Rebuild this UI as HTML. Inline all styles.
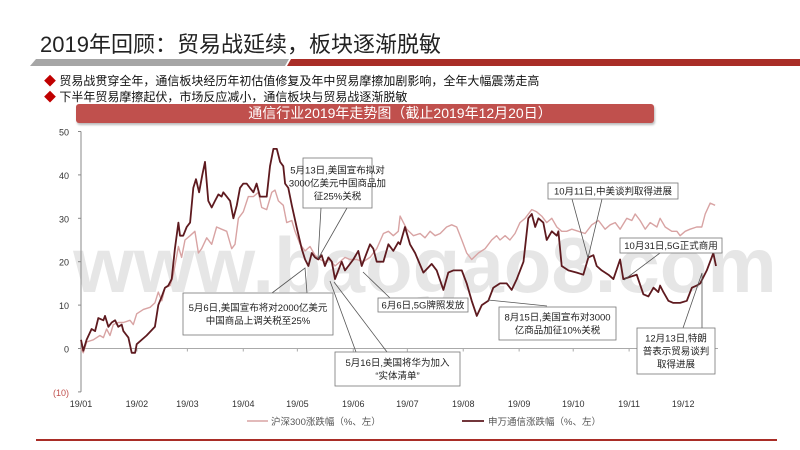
<!DOCTYPE html>
<html><head><meta charset="utf-8">
<style>
body{margin:0;width:800px;height:450px;background:#fff;overflow:hidden;position:relative;font-family:"Liberation Sans","Noto Sans CJK SC",sans-serif;}
.abs{position:absolute;}
</style></head>
<body>
<div class="abs" style="left:40px;top:27px;font-size:22px;color:#222;font-family:'Liberation Sans','Noto Sans CJK SC',sans-serif;">2019年回顾：贸易战延续，板块逐渐脱敏</div>
<svg class="abs" style="left:0;top:0" width="800" height="450">
<polygon points="36,59 289,59 285,66 30,66" fill="#a6a6a6"/>
<polygon points="291,59 800,59 800,66 287,66" fill="#a92d27"/>
</svg>
<div class="abs" style="left:44px;top:72px;font-size:12px;color:#111;"><span style="color:#c00000">◆</span> 贸易战贯穿全年，通信板块经历年初估值修复及年中贸易摩擦加剧影响，全年大幅震荡走高</div>
<div class="abs" style="left:44px;top:88px;font-size:12px;color:#111;"><span style="color:#c00000">◆</span> 下半年贸易摩擦起伏，市场反应减小，通信板块与贸易战逐渐脱敏</div>
<div class="abs" style="left:76px;top:104px;width:578px;height:19px;background:#c0504d;border-radius:3px;box-shadow:1px 2px 2px #bbb;color:#fff;font-size:14px;line-height:19px;text-align:center;">　　　　　通信行业2019年走势图（截止2019年12月20日）</div>
<svg id="chart" class="abs" style="left:0;top:0" width="800" height="450"></svg>
<div class="abs" style="left:36px;top:439px;width:741px;height:2px;background:#a92d27;"></div>
<script>
const darkDays=[0,1.3,3.1,5.9,7.8,9.6,12.4,13.3,15.2,17,18.9,20.7,22.6,23.5,26.3,28.1,30,30.9,36.4,41,42.9,44.8,46.6,48.4,50.3,52.1,54,54.9,56.7,58.6,60.5,62.3,63.8,65.5,67.3,68.8,70.6,72.5,74.3,76.2,78,78.9,80.8,82.7,84.5,86.4,88.2,90,91.9,93.7,95.6,97.4,99.3,101.1,103,104.8,106.7,108.6,110.4,112.2,113.2,115,116.9,119.6,122.4,124.3,126.1,128,129.8,131.6,133.5,135.3,137.2,139.1,140.9,142.7,144.6,146.4,148.3,151,153.8,155.7,157.5,160.3,162.1,164,167.7,170.5,173.2,176,177,179.7,182.5,185.3,189.9,194.5,197.3,201,203.7,206.5,211.2,213.9,216.7,219.5,222.3,225.9,228.7,232.4,236.1,238.9,241.7,245.4,248.1,250,251.9,253.7,256.4,258.3,261.1,263.9,264.8,266.6,270.3,275,278.6,281.4,284.2,286,288.8,292.5,295.3,299,300.8,304.5,308.2,311.9,314.7,317.5,320.2,321.2,323,325.8,328.5,332.3,336,338.8,341.5,343.4,347.1,349.8,350.7,352.2];
const darkVals=[2,-0.5,2,4.5,4,7,6.5,7.5,5,6,6.5,5,5.5,4,2.5,-1,-1,1,3,5,10,12,14,14.5,16,23,29,26,26,28,29,37,39,36,40,43,34,32.5,34,35.5,35,36,35,34,30,33,37,38,38,37,36,38,35,35,35,42,46,46,43,42,38,37,33,28,23,20.5,19,22,21,20.5,21.5,19,21,20,16,18,20,18,19,20.5,22.5,19,21,24,23,20,20,24,22.5,24.5,24,28,24,22,17.5,19.5,18,13.5,17.5,18,18,15,11,7.5,10,11,14,15,15,13.5,16,20,30,31,28,30,29,25,27,26,27,19,18,17.5,17,21,21.5,19,18,17,16,20.5,16,16.5,17,12.5,12,14,13,14.5,13,11,10.5,10.5,11,14,14.5,15,18,21,22,19];
const lightDays=[0,1.3,3.1,6.8,10.5,12.4,14.2,16.1,17.9,20.7,23.5,27.2,29,30.9,34.6,38.3,41,42.9,44.8,46.6,49.4,51.2,54,55.8,57.7,60.5,63.2,65.1,66.9,69.7,72.5,75.2,78,80.8,83.6,85.4,87.3,90,92.8,95.6,98.4,100.2,103,105.8,107.6,109.5,112.2,114.1,116.9,118.7,121.5,124.3,127,129.8,132.6,135.3,138.1,140.9,143.7,146.4,149.2,152.9,156.6,160.3,164,167.7,170.5,173.2,176,177,180.7,184.4,188.1,190.8,193.6,196.4,199.2,202.8,205.6,208.4,211.2,213.9,216.7,220.4,224.1,227.8,230.5,232.4,235.2,237.9,240.7,243.5,246.3,250,252.7,255.5,258.3,261.1,263.9,266.6,269.4,272.2,275.9,279.6,283.3,287,290.7,293.5,296.3,299,302.7,305.5,307.4,310.1,312.9,315.7,319.4,321.2,324,327.7,330.5,332.3,335.1,337.8,341.5,344.3,346.2,349,351.7];
const lightVals=[0,-1,1.5,2,3,2.5,4.5,3,5.5,6,6,6.5,5.5,8,9,9.5,10.5,13,11,14,14.5,17,23.5,21,25,26,27,22,23,25.5,24,28,27.5,27,23,24,30,31.5,35,35,36,32.5,32,36,36.5,34,33,29,29.5,27,24,22.5,23.5,21.5,20.5,20,20.5,19,20,21,20.5,20.5,20,21,23,26.5,27,26,27,30.5,27.5,26,26.5,25.5,27,26,26.5,28,28.5,28,25,22,20.5,22,23,25,26,25,26,25,26.5,29,30,32,31.5,30.5,29,30,28,27,27,27.5,27,26.5,28.5,29.5,27.5,28.5,29,27.5,30,29.5,31,29.5,27.5,29,28,30,28,27,27,26,27,27.5,28,28,31,33.5,33];
const monthLabels=["19/01","19/02","19/03","19/04","19/05","19/06","19/07","19/08","19/09","19/10","19/11","19/12"];
const monthStartDays=[0,31,59,90,120,151,181,212,243,273,304,334];
const yTicks=[50,40,30,20,10,0,-10];

const svg=document.getElementById('chart');
const NS='http://www.w3.org/2000/svg';
const X0=81, PXD=1.803, Y0=348.5, PXU=4.34;
function xs(d){return X0+d*PXD;}
function ys(v){return Y0-v*PXU;}
function mk(tag,attrs){const e=document.createElementNS(NS,tag);for(const k in attrs)e.setAttribute(k,attrs[k]);svg.appendChild(e);return e;}

// watermark
let wm=mk('text',{x:425,y:292,'text-anchor':'middle','font-size':78,fill:'#e6e6e6','font-family':'Liberation Sans, sans-serif','font-weight':'bold'});
wm.textContent='www.baogao8.com';



// axes
let ya=mk('line',{x1:X0,y1:ys(50),x2:X0,y2:ys(-10),stroke:'#888','stroke-width':1});


let xa=mk('line',{x1:X0,y1:Y0,x2:718,y2:Y0,stroke:'#aaa','stroke-width':1});


yTicks.forEach(t=>{
  mk('line',{x1:X0-3,y1:ys(t),x2:X0,y2:ys(t),stroke:'#888'});
  let tx=mk('text',{x:69,y:ys(t)+4,'text-anchor':'end','font-size':9,fill:t<0?'#c0504d':'#333'});
  tx.textContent=t<0?'('+(-t)+')':String(t);
  
  
});
monthLabels.forEach((m,i)=>{
  const x=xs(monthStartDays[i]);
  mk('line',{x1:x,y1:Y0,x2:x,y2:Y0+3,stroke:'#aaa'});
  let tx=mk('text',{x:x,y:407,'text-anchor':'middle','font-size':9,fill:'#333'});
  tx.textContent=m;
  
  
});

function line(days,vals,color,name,w){
  let d=days.map((dd,i)=>(i?'L':'M')+xs(dd).toFixed(1)+','+ys(vals[i]).toFixed(1)).join(' ');
  let p=mk('path',{d:d,fill:'none',stroke:color,'stroke-width':w,'stroke-linejoin':'round'});
  
  
}
line(lightDays,lightVals,'#d8a3a3','line-hs300',1.4);
line(darkDays,darkVals,'#5e1a1f','line-sw-telecom',1.8);

// annotations
function callout(name,bx,by,bw,bh,lines,segs){
  segs.forEach(s=>mk('polyline',{points:s,fill:'none',stroke:'#555','stroke-width':0.8}));
  let r=mk('rect',{x:bx,y:by,width:bw,height:bh,fill:'#fff',stroke:'#777','stroke-width':0.8});
  
  
  const lh=13, top=by+(bh-lines.length*lh)/2+10;
  lines.forEach((l,i)=>{
    let t=mk('text',{x:bx+bw/2,y:top+i*lh,'text-anchor':'middle','font-size':9.5,fill:'#222'});
    t.textContent=l;
    
    
  });
}
callout('annotation-may13',303,158,69,50,['5月13日,美国宣布拟对','3000亿美元中国商品加','征25%关税'],['321,208 318,259 347,208']);
callout('annotation-may6',183,293,150,42,['5月6日,美国宣布将对2000亿美元','中国商品上调关税至25%'],['272,293 305,268 307,293']);
callout('annotation-may16',335,352,125,34,['5月16日,美国将华为加入','“实体清单”'],['356,352 330,281','387,352 334,282']);
callout('annotation-jun6',378,298,90,14,['6月6日,5G牌照发放'],['390,298 363,272']);
callout('annotation-aug15',499,307,117,33,['8月15日,美国宣布对3000','亿商品加征10%关税'],['547,306 488,300']);
callout('annotation-oct11',548,183,130,16,['10月11日,中美谈判取得进展'],['572,199 588,258 602,199']);
callout('annotation-oct31',620,238,102,15,['10月31日,5G正式商用'],['660,253 624,280']);
callout('annotation-dec13',637,328,78,46,['12月13日,特朗','普表示贸易谈判','取得进展'],['683,328 702,273 702,328']);

// legend
mk('line',{x1:247,y1:421,x2:268,y2:421,stroke:'#d8a3a3','stroke-width':1.5});
let l1=mk('text',{x:271,y:425,'font-size':9.5,fill:'#555'});l1.textContent='沪深300涨跌幅（%、左）';


mk('line',{x1:462,y1:421,x2:484,y2:421,stroke:'#5e1a1f','stroke-width':1.8});
let l2=mk('text',{x:488,y:425,'font-size':9.5,fill:'#555'});l2.textContent='申万通信涨跌幅（%、左）';


</script>
</body></html>
